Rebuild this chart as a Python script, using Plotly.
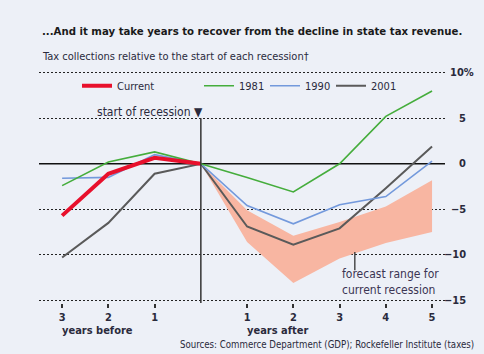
import plotly.graph_objects as go

# ---- data ----
years = [-3, -2, -1, 0, 1, 2, 3, 4, 5]
current_x = [-3, -2, -1, 0]
current = [-5.7, -1.1, 0.65, 0.0]
s1981 = [-2.4, 0.2, 1.3, 0.0, -1.5, -3.1, 0.0, 5.2, 8.0]
s1990 = [-1.6, -1.5, 1.0, 0.0, -4.6, -6.6, -4.5, -3.6, 0.3]
s2001 = [-10.3, -6.5, -1.1, 0.0, -6.9, -8.9, -7.1, -2.7, 1.9]
band_x = [0, 1, 2, 3, 4, 5]
band_upper = [0.0, -5.1, -7.9, -6.4, -4.7, -1.8]
band_lower = [0.0, -8.6, -13.1, -10.4, -8.7, -7.5]
x_tickvals = [-3, -2, -1, 1, 2, 3, 4, 5]
x_ticktext = ["3", "2", "1", "1", "2", "3", "4", "5"]
y_gridvals = [10, 5, -5, -10, -15]
y_labels = {10: "10%", 5: "5", 0: "0", -5: "−5", -10: "−10", -15: "−15"}

FONT = "DejaVu Sans Condensed, DejaVu Sans, sans-serif"
TXT = "#2a2a3c"
BG = "#edf0f7"

fig = go.Figure()

# forecast band
fig.add_trace(go.Scatter(
    x=band_x + band_x[::-1], y=band_upper + band_lower[::-1],
    fill="toself", fillcolor="#f8b6a2", line=dict(width=0),
    mode="lines", showlegend=False, hoverinfo="skip"))

fig.add_trace(go.Scatter(x=years, y=s2001, mode="lines", name="2001",
                         line=dict(color="#5a5a5a", width=2), legend="legend2"))
fig.add_trace(go.Scatter(x=years, y=s1990, mode="lines", name="1990",
                         line=dict(color="#7399dc", width=1.6), legend="legend2"))
fig.add_trace(go.Scatter(x=years, y=s1981, mode="lines", name="1981",
                         line=dict(color="#45ad3c", width=1.6), legend="legend2"))
fig.add_trace(go.Scatter(x=current_x, y=current, mode="lines", name="Current",
                         line=dict(color="#e8102c", width=4), legend="legend"))

# zero line
fig.add_shape(type="line", xref="paper", yref="y", x0=0, x1=1, y0=0, y1=0,
              line=dict(color="#111", width=1.5), layer="below")
# vertical line at start of recession
fig.add_shape(type="line", xref="x", yref="y", x0=0, x1=0, y0=-15.3, y1=5.0,
              line=dict(color="#333", width=1.5))
# pointer for forecast annotation
fig.add_shape(type="line", xref="x", yref="y", x0=3.33, x1=3.33, y0=-9.7, y1=-11.7,
              line=dict(color="#333", width=1.3))

ann = []
for v, t in y_labels.items():
    ann.append(dict(xref="paper", yref="y", x=(476 - 39) / 406 if v == 10 else (468 - 39) / 406,
                    y=v, text="<b>%s</b>" % t, showarrow=False, xanchor="right",
                    font=dict(family=FONT, size=11, color=TXT)))
ann += [
    dict(xref="paper", yref="paper", x=(40 - 39) / 406, y=(302.7 - 32) / 232.4,
         text="<b>...And it may take years to recover from the decline in state tax revenue.</b>",
         showarrow=False, xanchor="left", yanchor="middle",
         font=dict(family=FONT, size=11.3, color="#1a1a1a")),
    dict(xref="paper", yref="paper", x=(40 - 39) / 406, y=(302.7 - 57) / 232.4,
         text="Tax collections relative to the start of each recession†",
         showarrow=False, xanchor="left", yanchor="middle",
         font=dict(family=FONT, size=11, color=TXT)),
    dict(xref="paper", yref="paper", x=(476 - 39) / 406, y=(302.7 - 344) / 232.4,
         text="Sources: Commerce Department (GDP); Rockefeller Institute (taxes)",
         showarrow=False, xanchor="right", yanchor="middle",
         font=dict(family=FONT, size=9.6, color=TXT)),
    dict(xref="x", yref="paper", x=-3.05, y=(302.7 - 330) / 232.4,
         text="<b>years before</b>", showarrow=False, xanchor="left", yanchor="middle",
         font=dict(family=FONT, size=11, color=TXT)),
    dict(xref="x", yref="paper", x=0.955, y=(302.7 - 330) / 232.4,
         text="<b>years after</b>", showarrow=False, xanchor="left", yanchor="middle",
         font=dict(family=FONT, size=11, color=TXT)),
    dict(xref="x", yref="y", x=0.09, y=5.7,
         text="start of recession ▼", showarrow=False, xanchor="right", yanchor="middle",
         font=dict(family=FONT, size=12, color=TXT)),
    dict(xref="x", yref="y", x=3.0, y=-12.95,
         text="forecast range for<br>current recession", showarrow=False,
         xanchor="left", yanchor="middle", align="left",
         font=dict(family=FONT, size=12, color="#3b3553")),
]

fig.update_layout(
    width=484, height=354,
    margin=dict(l=39, r=39, t=70.3, b=51.3),
    paper_bgcolor=BG, plot_bgcolor=BG,
    annotations=ann,
    legend=dict(orientation="h", x=(77 - 39) / 406, y=(302.7 - 86) / 232.4,
                xanchor="left", yanchor="middle", bgcolor="rgba(0,0,0,0)",
                font=dict(family=FONT, size=11, color=TXT), itemwidth=30),
    legend2=dict(orientation="h", x=(199 - 39) / 406, y=(302.7 - 86) / 232.4,
                 xanchor="left", yanchor="middle", bgcolor="rgba(0,0,0,0)",
                 font=dict(family=FONT, size=11, color=TXT), itemwidth=30,
                 traceorder="reversed", entrywidth=21, entrywidthmode="pixels"),
    xaxis=dict(range=[-3.5, 5.28], tickvals=x_tickvals, ticktext=["<b>%s</b>" % t for t in x_ticktext],
               showgrid=False, zeroline=False, showline=False,
               ticks="outside", ticklen=4, tickwidth=1.5, tickcolor="#333",
               tickfont=dict(family=FONT, size=11, color=TXT)),
    yaxis=dict(range=[-15.3, 10.3], tickvals=y_gridvals, showticklabels=False,
               showgrid=True, gridcolor="#222", gridwidth=1, griddash="2px,2px",
               zeroline=False, showline=False),
)

fig.write_html("out.html")
